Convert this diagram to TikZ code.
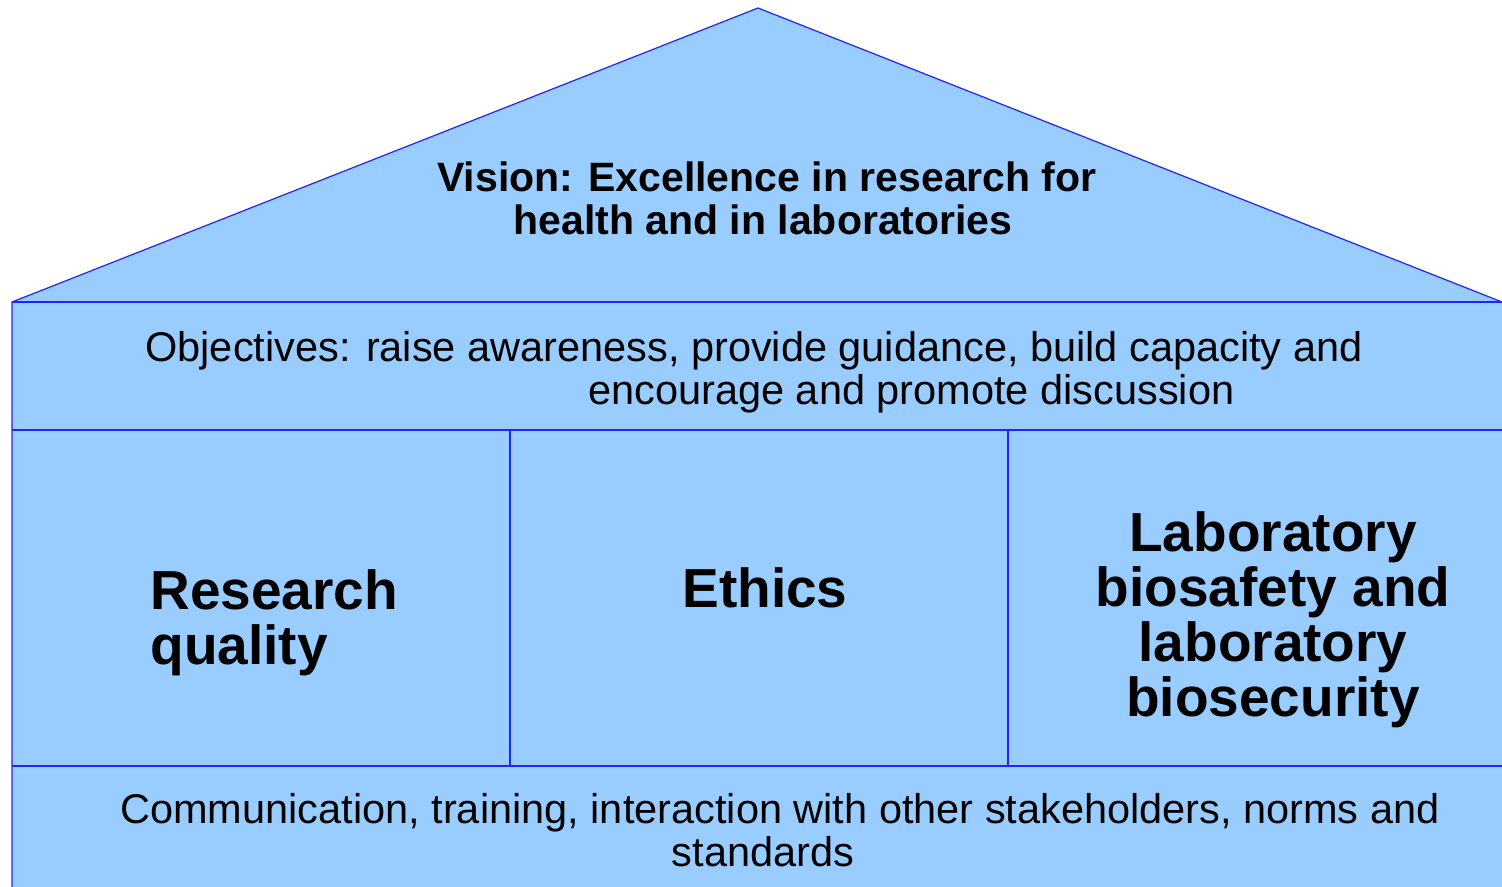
\documentclass[tikz,border=0pt]{standalone}
\usepackage{fontspec}
\setmainfont{Liberation Sans}
\definecolor{housefill}{HTML}{99CCFF}
\definecolor{houseline}{HTML}{2222FF}
\begin{document}
\begin{tikzpicture}[x=0.5pt,y=-0.5pt,
  edge/.style={draw=houseline,line width=0.6pt},
  vis/.style={inner sep=0pt,align=center,font=\fontsize{20.5pt}{21.5pt}\selectfont\bfseries},
  reg/.style={inner sep=0pt,font=\fontsize{20.75pt}{21.5pt}\selectfont},
  big/.style={inner sep=0pt,font=\fontsize{27.5pt}{27.5pt}\selectfont\bfseries}]
\useasboundingbox (0,0) rectangle (1502,887);
% house body
\fill[housefill] (12,302) -- (758,8) -- (1502,302) -- (1502,887) -- (12,887) -- cycle;
\path[edge] (12,887) -- (12,302) -- (758,8) -- (1502,302);
\path[edge] (12,302) -- (1502,302);
\path[edge] (12,430) -- (1502,430);
\path[edge] (12,766) -- (1502,766);
\path[edge] (510,430) -- (510,766);
\path[edge] (1008,430) -- (1008,766);
% texts (base anchor = baseline of last line)
\node[vis,anchor=base] (vision) at (767,235) {Vision: Excellence in research for\\\hspace*{-4pt}health and in laboratories};
\node[reg,anchor=base west,align=left] (objectives) at (145,404) {Objectives: raise awareness, provide guidance, build capacity and\\\hspace*{221.5pt}encourage and promote discussion};
\node[big,anchor=base west,align=left] (quality) at (150,664) {Research\\quality};
\node[big,anchor=base] (ethics) at (765,607) {Ethics};
\node[big,anchor=base,align=center] (biosafety) at (1273,716) {Laboratory\\biosafety and\\laboratory\\biosecurity};
\node[reg,anchor=base,align=center] (communication) at (780,866) {Communication, training, interaction with other stakeholders, norms and\\\hspace*{-17pt}standards};
\end{tikzpicture}
\end{document}
